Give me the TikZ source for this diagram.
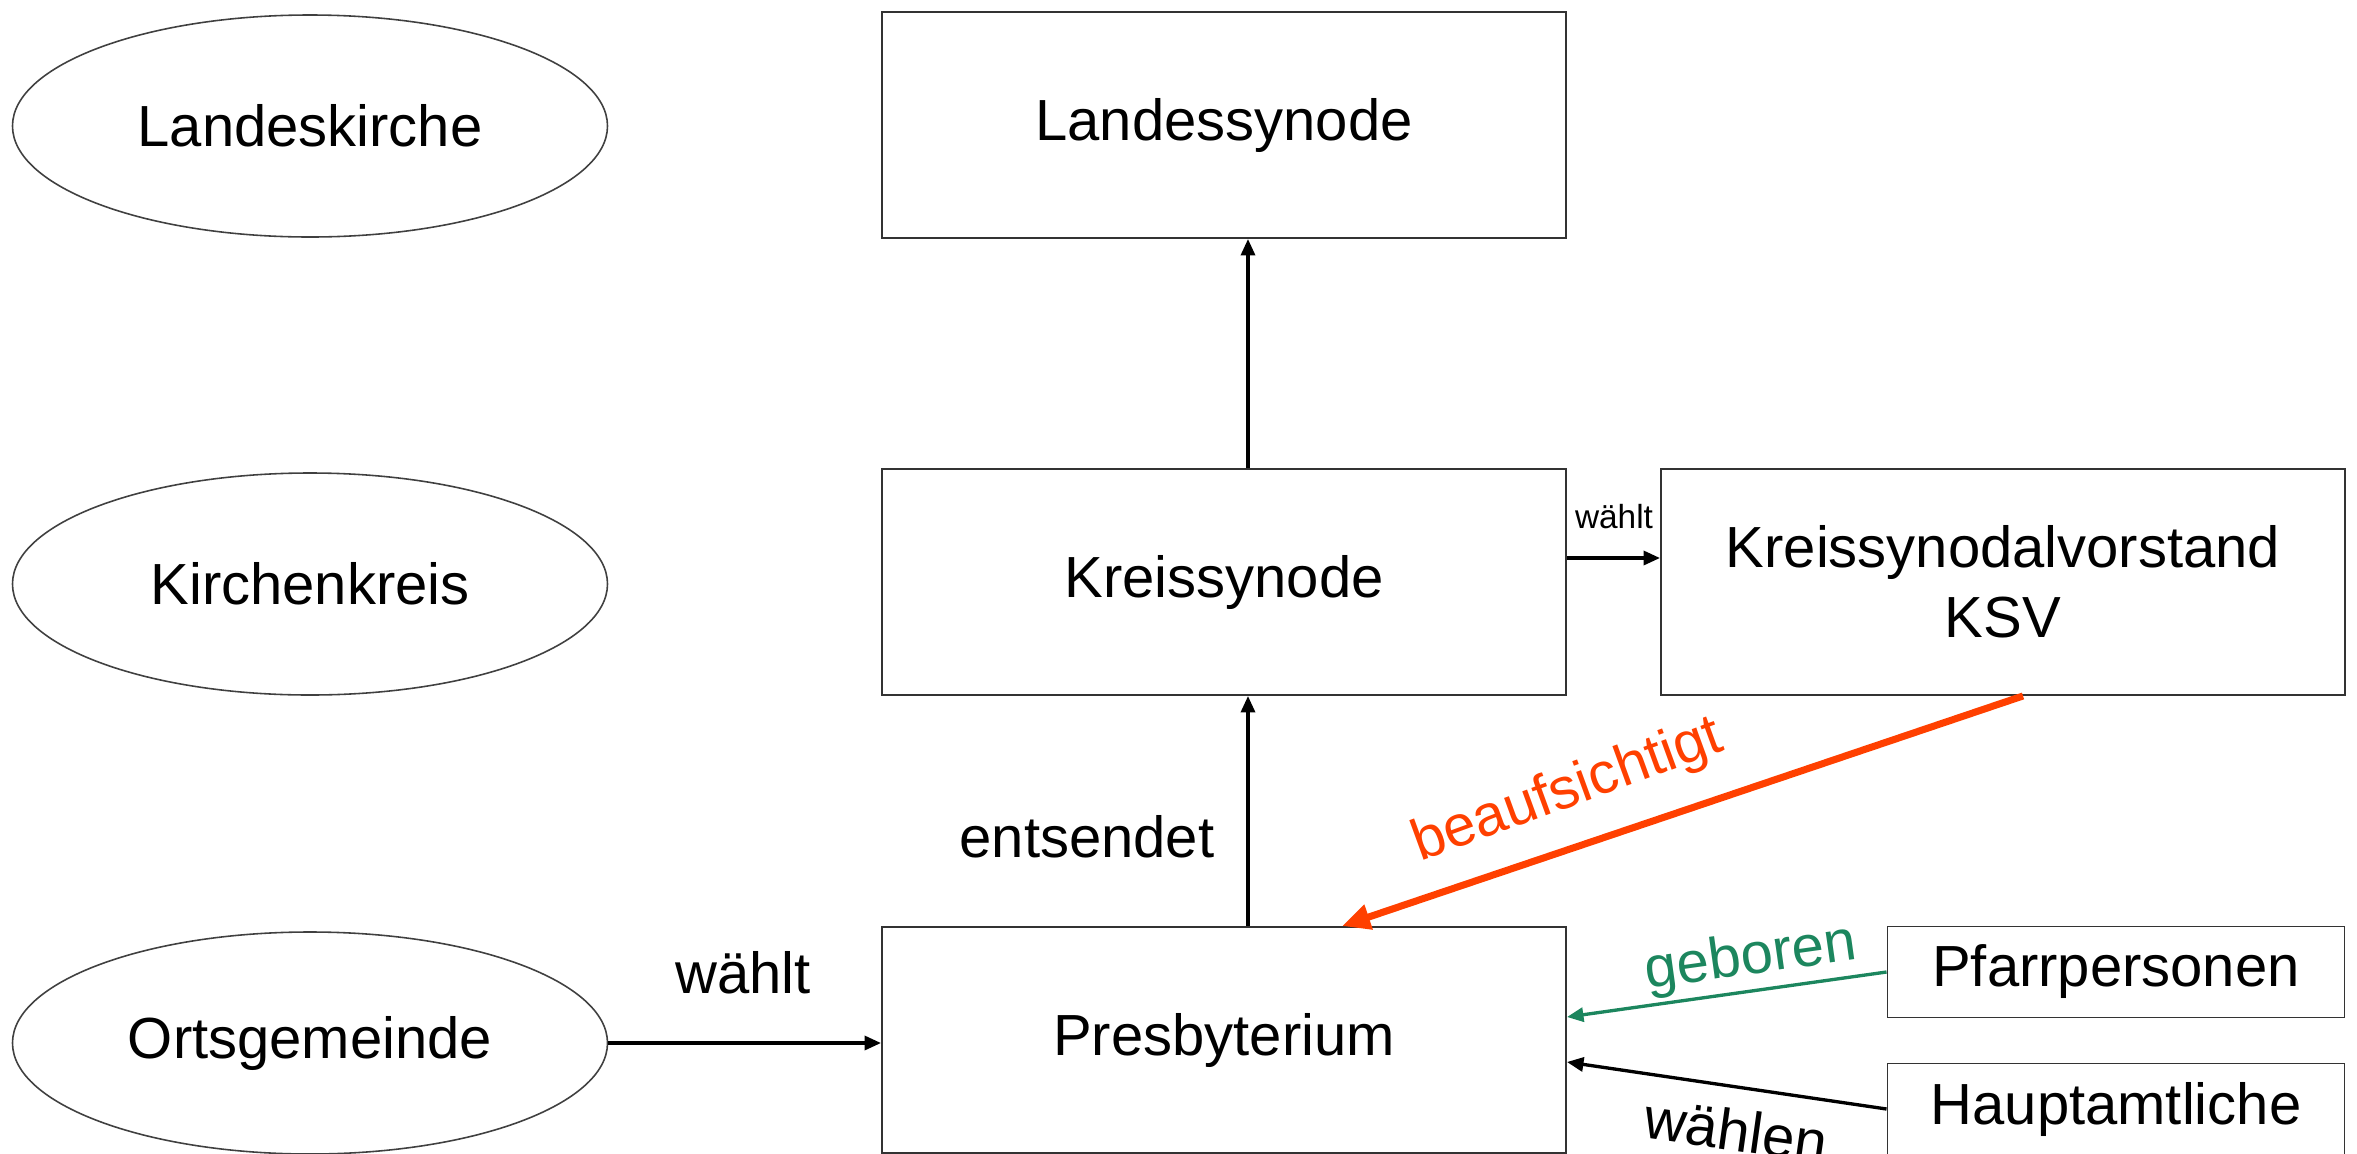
\documentclass[tikz,border=0pt]{standalone}
\usepackage{fontspec}
\setmainfont{Liberation Sans}
\usetikzlibrary{arrows.meta,shapes.geometric}
\definecolor{cred}{RGB}{255,64,0}
\definecolor{cgreen}{RGB}{28,134,94}
\tikzset{txt/.style={font=\fontsize{16.5}{20}\selectfont}}
\tikzset{level/.style={txt,ellipse,draw=black!75,line width=0.45pt,minimum width=5.95cm,minimum height=2.22cm},
         organ/.style={txt,rectangle,draw=black!80,line width=0.55pt,align=center,minimum width=6.84cm,minimum height=2.26cm},
         person/.style={organ,minimum width=4.57cm,minimum height=0.91cm},
         flow/.style={-{Triangle[length=4.7pt,width=4pt]},line width=0.95pt}}

\begin{document}
\begin{tikzpicture}
    \useasboundingbox (0,0) rectangle (23.57,-11.54);
    % levels
    \node[level] (lk) at (3.10,-1.26)  {Landeskirche};
    \node[level] (kk) at (3.10,-5.84)  {Kirchenkreis};
    \node[level] (og) at (3.10,-10.43) {Ortsgemeinde};
    % bodies
    \node[organ]  (lsyn)  at (12.24,-1.25)  {Landessynode};
    \node[organ]  (ksyn)  at (12.24,-5.82)  {Kreissynode};
    \node[organ]  (ksv)   at (20.03,-5.82)  {Kreissynodalvorstand\\KSV};
    \node[organ]  (pres)  at (12.24,-10.40) {Presbyterium};
    \node[person] (pfarr) at (21.16,-9.72)  {Pfarrpersonen};
    \node[person] (haupt) at (21.16,-11.09) {Hauptamtliche};
    % connectors
    \draw[flow] ([xshift=0.24cm]ksyn.north) -- ([xshift=0.24cm]lsyn.south);
    \draw[flow] ([xshift=0.24cm]pres.north) -- ([xshift=0.24cm]ksyn.south);
    \draw[flow] (og.east) -- (og.east -| pres.west);
    \draw[flow] ([yshift=0.24cm]ksyn.east) -- ([yshift=0.24cm]ksv.west);
    \draw[cred,line width=2pt,-{Triangle[length=8pt,width=7pt]}] ([xshift=0.2cm]ksv.south) -- ([xshift=1.18cm]pres.north);
    \draw[flow,cgreen] (pfarr.west) -- ([yshift=0.23cm]pres.east);
    \draw[flow] (haupt.west) -- ([yshift=-0.22cm]pres.east);
    % labels
    \node[txt] (entsendet) at (10.87,-8.37) {entsendet};
    \node[txt] (waehltog) at (7.43,-9.73) {wählt};
    \node[font=\fontsize{9.5}{11}\selectfont] (waehltks) at (16.14,-5.17) {wählt};
    \node[txt,cred,rotate=20] (beauf) at (15.68,-7.92) {beaufsichtigt};
    \node[txt,cgreen,rotate=8] (geboren) at (17.51,-9.59) {geboren};
    \node[txt,rotate=-8] (waehlen) at (17.36,-11.30) {wählen};
\end{tikzpicture}
\end{document}
